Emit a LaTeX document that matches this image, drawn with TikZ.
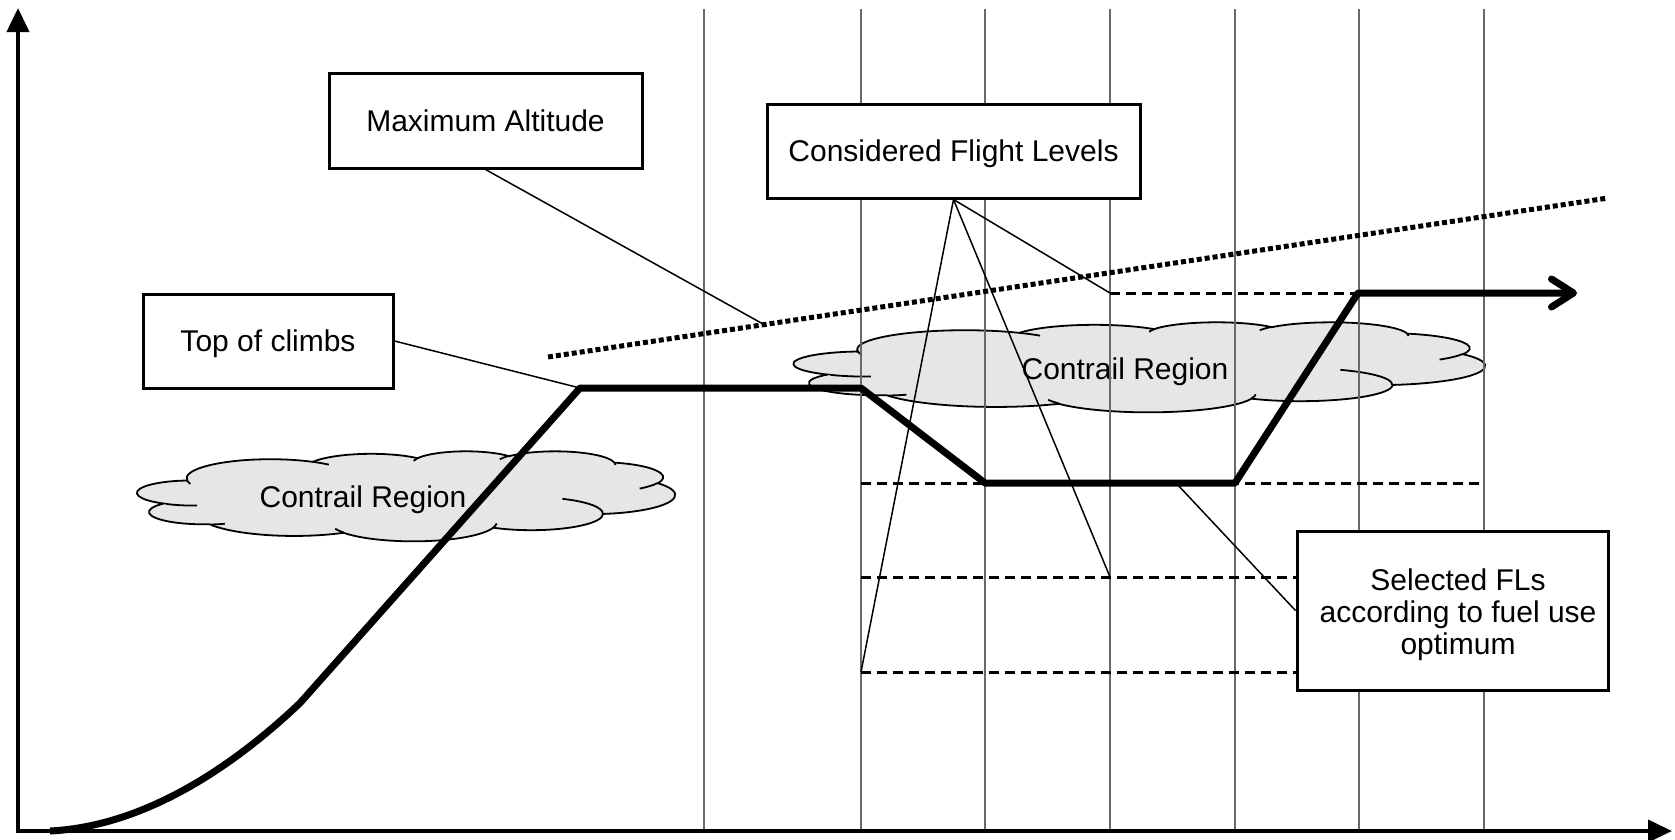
\documentclass[tikz,border=0pt]{standalone}
\usepackage{fontspec}
\setmainfont{Liberation Sans}
\usetikzlibrary{arrows.meta}
\definecolor{gridgray}{RGB}{105,105,105}
\definecolor{cloudfill}{RGB}{230,230,230}
\tikzset{
  axisline/.style={line width=4pt, line join=miter},
  gridline/.style={line width=1.6pt, draw=gridgray},
  levelline/.style={line width=3pt, dash pattern=on 10pt off 6pt},
  maxline/.style={line width=5pt, dash pattern=on 5pt off 3pt},
  callout/.style={line width=1.5pt},
  flight/.style={line width=7pt, line join=round, -{Straight Barb[length=22pt,width=28pt,round]}},
  textbox/.style={draw, line width=3pt, fill=white, inner sep=0pt, align=center,
    text height=21.5pt, text depth=0pt, font=\fontsize{30pt}{32pt}\selectfont},
  plainbox/.style={draw, line width=3pt, fill=white, inner sep=0pt},
  boxtext/.style={inner sep=0pt, align=center, font=\fontsize{30pt}{32pt}\selectfont},
  cloudshape/.style={fill=cloudfill, draw, line width=1.8pt},
  cloudinner/.style={draw, line width=1.8pt},
  cloudtext/.style={inner sep=0pt, text height=21.5pt, text depth=0pt, font=\fontsize{30pt}{32pt}\selectfont},
}
% convert DrawingML (visual) arc angles to parametric ones
\newcommand{\defarc}[5]{%
 \pgfmathsetmacro\myArcTa{atan2((#4)*sin(#2),(#5)*cos(#2))}%
 \pgfmathsetmacro\myArcTb{atan2((#4)*sin((#2)+(#3)),(#5)*cos((#2)+(#3)))}%
 \pgfmathsetmacro\myArcTd{\myArcTb-(\myArcTa)+360*round(((#3)-(\myArcTb-(\myArcTa)))/360)}%
 \expandafter\xdef\csname arcS#1\endcsname{\myArcTa}%
 \expandafter\xdef\csname arcD#1\endcsname{\myArcTd}%
}
\defarc{A}{-190.487}{123.781}{15.632}{21.273}
\defarc{B}{-144.102}{89.945}{12.345}{16.822}
\defarc{C}{-145.808}{99.723}{10.104}{13.762}
\defarc{D}{-130.986}{117.242}{11.243}{15.266}
\defarc{E}{-78.709}{109.027}{12.345}{16.836}
\defarc{F}{-46.267}{130.269}{15.683}{21.343}
\defarc{G}{0.625}{114.033}{13.391}{18.211}
\defarc{H}{22.452}{115.173}{15.630}{21.331}
\defarc{I}{66.243}{78.036}{17.870}{24.405}
\defarc{J}{-274.942}{146.736}{10.093}{13.699}
\defarc{K}{-246.829}{152.519}{10.058}{13.762}
\defarc{L}{86.742}{26.430}{10.058}{13.762}
\defarc{M}{73.610}{11.447}{10.093}{13.699}
\defarc{N}{137.624}{14.081}{15.630}{21.331}
\defarc{O}{6.453}{15.998}{15.630}{21.331}
\defarc{P}{-70.292}{70.917}{13.391}{18.211}
\defarc{Q}{30.318}{27.752}{12.345}{16.836}
\defarc{R}{-13.744}{14.859}{11.243}{15.266}
\defarc{S}{-149.181}{18.195}{11.243}{15.266}
\defarc{T}{-163.494}{17.686}{10.104}{13.762}
\defarc{U}{-66.707}{12.319}{15.632}{21.273}
\defarc{V}{157.654}{11.858}{15.632}{21.273}
\newcommand{\ocloud}[4]{%
\begin{scope}[shift={(#1,#2)},xscale=#3/100,yscale=#4/100]
\path[cloudshape] (9.028,33.264)
 arc[start angle=\arcSA,delta angle=\arcDA,x radius=15.632,y radius=21.273]
 arc[start angle=\arcSB,delta angle=\arcDB,x radius=12.345,y radius=16.822]
 arc[start angle=\arcSC,delta angle=\arcDC,x radius=10.104,y radius=13.762]
 arc[start angle=\arcSD,delta angle=\arcDD,x radius=11.243,y radius=15.266]
 arc[start angle=\arcSE,delta angle=\arcDE,x radius=12.345,y radius=16.836]
 arc[start angle=\arcSF,delta angle=\arcDF,x radius=15.683,y radius=21.343]
 arc[start angle=\arcSG,delta angle=\arcDG,x radius=13.391,y radius=18.211]
 arc[start angle=\arcSH,delta angle=\arcDH,x radius=15.630,y radius=21.331]
 arc[start angle=\arcSI,delta angle=\arcDI,x radius=17.870,y radius=24.405]
 arc[start angle=\arcSJ,delta angle=\arcDJ,x radius=10.093,y radius=13.699]
 arc[start angle=\arcSK,delta angle=\arcDK,x radius=10.058,y radius=13.762]
 -- cycle;
\path[cloudinner]
 (10.863,60.595) arc[start angle=\arcSL,delta angle=\arcDL,x radius=10.058,y radius=13.762]
 (16.037,80.785) arc[start angle=\arcSM,delta angle=\arcDM,x radius=10.093,y radius=13.699]
 (38.144,90.486) arc[start angle=\arcSN,delta angle=\arcDN,x radius=15.630,y radius=21.331]
 (66.729,80.442) arc[start angle=\arcSO,delta angle=\arcDO,x radius=15.630,y radius=21.331]
 (79.002,53.134) arc[start angle=\arcSP,delta angle=\arcDP,x radius=13.391,y radius=18.211]
 (96.755,35.542) arc[start angle=\arcSQ,delta angle=\arcDQ,x radius=12.345,y radius=16.836]
 (88.713,12.560) arc[start angle=\arcSR,delta angle=\arcDR,x radius=11.243,y radius=15.266]
 (67.310,9.148) arc[start angle=\arcSS,delta angle=\arcDS,x radius=11.243,y radius=15.266]
 (51.252,10.926) arc[start angle=\arcST,delta angle=\arcDT,x radius=10.104,y radius=13.762]
 (32.407,12.019) arc[start angle=\arcSU,delta angle=\arcDU,x radius=15.632,y radius=21.273]
 (9.553,36.549) arc[start angle=\arcSV,delta angle=\arcDV,x radius=15.632,y radius=21.273];
\end{scope}}
\begin{document}
\begin{tikzpicture}[x=1pt,y=1pt,yscale=-1]
\useasboundingbox (0,0) rectangle (1675,839);
% clouds
\ocloud{139}{451}{536}{90}
\ocloud{796}{322}{689}{90}
\node[cloudtext] (cloudA) at (363,497) {Contrail Region};
\node[cloudtext] (cloudB) at (1125,369) {Contrail Region};
% grid
\foreach \x in {704,861,985,1110,1235,1359,1484}
  \draw[gridline] (\x,9) -- (\x,831);
% coordinates of the flight path
\coordinate (p0) at (50,831);
\coordinate (p1) at (300,703);
\coordinate (toc) at (580,388);
\coordinate (p3) at (861,388);
\coordinate (p4) at (985,483);
\coordinate (p5) at (1235,483);
\coordinate (p6) at (1358,293);
\coordinate (p7) at (1577,293);
% level lines
\coordinate (l1s) at (1110,293);
\coordinate (l2s) at (861,483);
\coordinate (l2e) at (1479,483);
\coordinate (l3s) at (861,577);
\coordinate (l3m) at (1110,577);
\coordinate (l4s) at (861,672);
\coordinate (ms) at (548,357);
\coordinate (me) at (1608,198);
\coordinate (ma) at (763,324);
\coordinate (selp) at (1176,483);
% boxes (positions)
\path (485.5,120.5) coordinate (maxaltc) (953.5,151) coordinate (cflc)
      (268,341) coordinate (tcbc) (1452.5,610.5) coordinate (selc);
% dashed levels
\draw[levelline] (l1s) -- (p6);
\draw[levelline] (l2s) -- (l2e);
\draw[levelline] (l3s) -- (l3s -| 1297,0);
\draw[levelline] (l4s) -- (l4s -| 1297,0);
% max altitude
\draw[maxline] (ms) -- (me);
% flight path
\draw[flight] (p0) .. controls (150,826) and (240,760) .. (p1) -- (toc) -- (p3) -- (p4) -- (p5) -- (p6) -- (p7);
% boxes
\node[textbox, minimum width=313pt, minimum height=95pt] (maxalt) at (maxaltc) {Maximum Altitude};
\node[textbox, minimum width=373pt, minimum height=94pt] (cfl) at (cflc) {Considered Flight Levels};
\node[textbox, minimum width=250pt, minimum height=94pt] (tcb) at (tcbc) {Top of climbs};
\node[plainbox, minimum width=311pt, minimum height=159pt] (sel) at (selc) {};
\node[boxtext] (selt) at (1458,614.5) {Selected FLs\\according to fuel use\\optimum};
% callouts
\draw[callout] (maxalt.south) -- (ma);
\draw[callout] (tcb.east) -- (toc);
\draw[callout] (cfl.south) -- (l1s);
\draw[callout] (cfl.south) -- (l3m);
\draw[callout] (cfl.south) -- (l4s);
\draw[callout] (selp) -- (sel.west);
% axes
\coordinate (ytip) at (18,8);
\coordinate (origin) at (18,831);
\coordinate (xtip) at (1672,831);
\draw[axisline, {Triangle[length=24pt,width=22pt]}-{Triangle[length=24pt,width=22pt]}] (ytip) -- (origin) -- (xtip);
\end{tikzpicture}
\end{document}
